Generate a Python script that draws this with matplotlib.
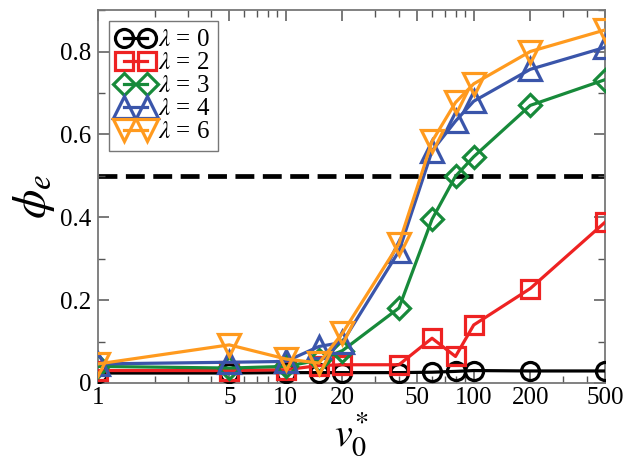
import matplotlib
matplotlib.use("Agg")
import matplotlib.pyplot as plt
from matplotlib.ticker import FixedLocator, NullFormatter, MultipleLocator

plt.rcParams['font.family'] = ['Liberation Serif', 'DejaVu Serif']
plt.rcParams['mathtext.fontset'] = 'stix'

v0 = [1, 5, 10, 15, 20, 40, 60, 80, 100, 200, 500]

phi_l0 = [0.024, 0.024, 0.025, 0.025, 0.025, 0.025, 0.026, 0.028, 0.030, 0.029, 0.029]
phi_l2 = [0.030, 0.030, 0.032, 0.042, 0.044, 0.044, 0.108, 0.064, 0.140, 0.228, 0.388]
phi_l3 = [0.040, 0.036, 0.040, 0.055, 0.078, 0.181, 0.395, 0.499, 0.546, 0.670, 0.732]
phi_l4 = [0.046, 0.050, 0.052, 0.088, 0.098, 0.318, 0.560, 0.632, 0.680, 0.757, 0.810]
phi_l6 = [0.046, 0.092, 0.058, 0.048, 0.120, 0.336, 0.583, 0.677, 0.722, 0.800, 0.852]

lambdas = [0, 2, 3, 4, 6]
colors = ['black', '#ee2222', '#178a3a', '#3a55aa', '#ff9a1e']
markers = ['o', 's', 'D', '^', 'v']
msizes = [13, 13, 11, 16, 16]
series = [phi_l0, phi_l2, phi_l3, phi_l4, phi_l6]

xticks = [1, 5, 10, 20, 50, 100, 200, 500]

fig = plt.figure(figsize=(6.26, 4.58), dpi=100)
ax = fig.add_axes([0.1565, 0.1638, 0.81, 0.8142])

# threshold line
ax.axhline(0.5, color='black', lw=3.4, ls=(0, (4.0, 1.8)), zorder=1)

for lam, c, m, ms, y in zip(lambdas, colors, markers, msizes, series):
    ax.plot(v0, y, color=c, lw=2.3, marker=m, ms=ms, mfc='none',
            mec=c, mew=2.3, label=r'$\lambda$ = %d' % lam, zorder=3)

ax.set_xscale('log')
ax.set_xlim(1, 500)
ax.set_ylim(0, 0.9)
ax.xaxis.set_major_locator(FixedLocator(xticks))
ax.set_xticklabels([str(t) for t in xticks])
minors = [2, 3, 4, 6, 7, 8, 9, 30, 40, 60, 70, 80, 90, 300, 400]
ax.xaxis.set_minor_locator(FixedLocator(minors))
ax.xaxis.set_minor_formatter(NullFormatter())
ax.yaxis.set_major_locator(FixedLocator([0, 0.2, 0.4, 0.6, 0.8]))
ax.set_yticklabels(['0', '0.2', '0.4', '0.6', '0.8'])
ax.yaxis.set_minor_locator(MultipleLocator(0.1))

for s in ax.spines.values():
    s.set_color('#777777')
    s.set_linewidth(1.3)
ax.tick_params(which='both', direction='in', top=True, right=True,
               color='#555555', labelsize=18, pad=5)
ax.tick_params(axis='x', which='both', pad=3)
ax.tick_params(which='major', length=8, width=1.1)
ax.tick_params(which='minor', length=5, width=1.0)

ax.set_xlabel(r'$v_0^{*}$', fontsize=29, labelpad=1)
ax.set_ylabel(r'$\phi_e$', fontsize=34, labelpad=2)

leg = ax.legend(loc='upper left', numpoints=2, fontsize=18, handlelength=1.5,
                handletextpad=0.15, borderpad=0.3, labelspacing=0.02,
                borderaxespad=0.45, fancybox=False, framealpha=1)
leg.get_frame().set_edgecolor('#777777')
leg.get_frame().set_linewidth(1.0)

fig.savefig('out.png', dpi=100)
